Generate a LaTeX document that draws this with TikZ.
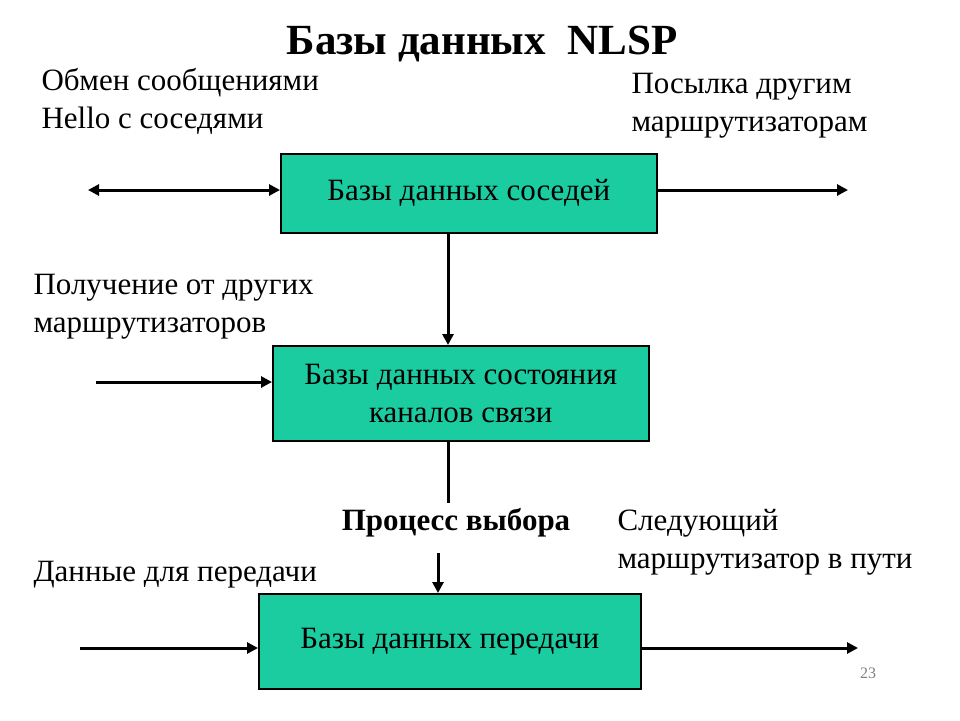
\documentclass[tikz,border=0pt]{standalone}
\usepackage{fontspec}
\setmainfont{Liberation Serif}
\usetikzlibrary{arrows.meta}
\definecolor{boxc}{RGB}{26,204,160}
\begin{document}
\begin{tikzpicture}[x=1pt,y=-1pt,
  db/.style={draw=black,line width=1.5pt,fill=boxc,font=\fontsize{31}{38}\selectfont,align=center,anchor=north west},
  lbl/.style={font=\fontsize{31}{38}\selectfont,align=left,anchor=west},
  arr/.style={line width=3pt,-{Triangle[length=11pt,width=11pt]}}]
\useasboundingbox (0,0) rectangle (960,720);
\node[font=\fontsize{43}{46}\selectfont\bfseries] (t) at (482,44) {Базы данных\ \ NLSP};
\node[db,minimum width=376pt,minimum height=79pt] (b1) at (280,153) {Базы данных соседей};
\node[db,minimum width=376pt,minimum height=95pt] (b2) at (272,345) {Базы данных состояния\\каналов связи};
\node[db,minimum width=382pt,minimum height=95pt] (b3) at (258,593) {Базы данных передачи};
\node[lbl] (l1) at (38,101) {Обмен сообщениями\\Hello с соседями};
\node[lbl] (l2) at (628,106) {Посылка другим\\маршрутизаторам};
\node[lbl] (l3) at (30,307) {Получение от других\\маршрутизаторов};
\node[lbl] (l4) at (614,542) {Следующий\\маршрутизатор в пути};
\node[lbl] (l5) at (30,575) {Данные для передачи};
\node[font=\fontsize{31}{34}\selectfont\bfseries] (p) at (456,523) {Процесс выбора};
\node[font=\fontsize{16}{18}\selectfont,text=gray] (n) at (868,673) {23};
\coordinate (a1) at (88,190); \coordinate (a2) at (848,190);
\coordinate (a3) at (96,382); \coordinate (a4) at (80,648); \coordinate (a5) at (858,648);
\coordinate (c1) at (448,503); \coordinate (c2) at (438,553);
\draw[line width=3pt,{Triangle[length=11pt,width=11pt]}-{Triangle[length=11pt,width=11pt]}] (a1) -- (a1 -| b1.west);
\draw[arr] (a2 -| b1.east) -- (a2);
\draw[arr] (b1.south -| 448,0) -- (b2.north -| 448,0);
\draw[arr] (a3) -- (a3 -| b2.west);
\draw[line width=3pt] (b2.south -| c1) -- (c1);
\draw[arr] (c2) -- (c2 |- b3.north);
\draw[arr] (a4) -- (a4 -| b3.west);
\draw[arr] (a5 -| b3.east) -- (a5);
\end{tikzpicture}
\end{document}
